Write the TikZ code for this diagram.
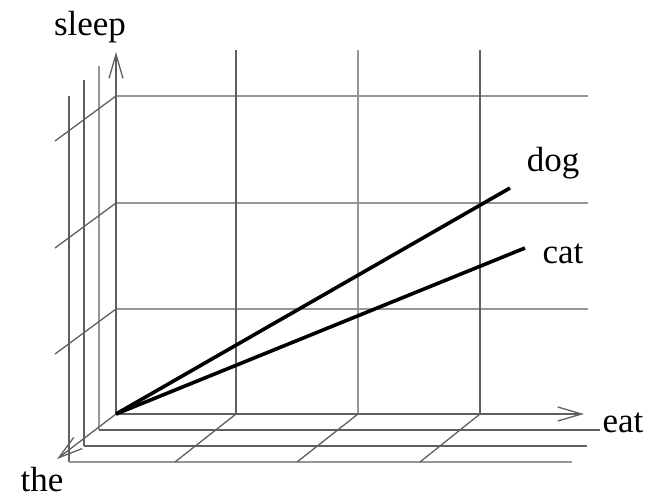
\documentclass[tikz,border=0pt]{standalone}
\usepackage{fontspec}
\setmainfont{Liberation Serif}
\usetikzlibrary{arrows.meta}
\definecolor{GridGray}{RGB}{95,95,95}
\definecolor{PaleGray}{RGB}{150,150,150}
\tikzset{
  grid/.style={draw=GridGray,line width=1.3pt},
  palegrid/.style={draw=PaleGray,line width=1.6pt},
  axis/.style={-{Straight Barb[length=24pt,width=14pt]},draw=GridGray,line width=1.3pt},
  vector/.style={draw=black,line width=3.6pt},
  word/.style={font=\fontsize{35}{40}\selectfont,inner sep=0pt}
}
\begin{document}
\begin{tikzpicture}[x=1pt,y=-1pt]
  \useasboundingbox (0,0) rectangle (651,498);
  \coordinate (O) at (116,414);
  \coordinate (sleeptip) at (116,52);
  \coordinate (eattip) at (584,414);
  \coordinate (thetip) at (57,459);
  \coordinate (dogend) at (510,188);
  \coordinate (catend) at (525,248);
  \draw[palegrid] (116,96) -- (588,96);
  \draw[palegrid] (116,203) -- (588,203);
  \draw[palegrid] (116,309) -- (588,309);
  \draw[grid] (236,50) -- (236,414);
  \draw[palegrid] (358,50) -- (358,414);
  \draw[grid] (480,50) -- (480,414);
  \draw[palegrid] (99,66) -- (99,430);
  \draw[grid] (84,80) -- (84,446);
  \draw[grid] (69,96) -- (69,462);
  \draw[grid] (99,430) -- (600,430);
  \draw[grid] (84,446) -- (587,446);
  \draw[palegrid] (69,462) -- (572,462);
  \draw[grid] (116,96) -- (55,141);
  \draw[grid] (116,203) -- (55,248);
  \draw[grid] (116,309) -- (55,354);
  \draw[grid] (236,414) -- (175,462);
  \draw[grid] (358,414) -- (297,462);
  \draw[grid] (480,414) -- (420,462);
  \draw[axis] (O) -- (sleeptip);
  \draw[axis] (O) -- (eattip);
  \draw[axis] (O) -- (thetip);
  \draw[vector] (O) -- (dogend);
  \draw[vector] (O) -- (catend);
  \node[word] (sleep) at (90,27) {sleep};
  \node[word] (eat) at (623,423) {eat};
  \node[word,anchor=base] (the) at (42,491) {the};
  \node[word] (dog) at (553,163) {dog};
  \node[word] (cat) at (563,254) {cat};
\end{tikzpicture}
\end{document}
